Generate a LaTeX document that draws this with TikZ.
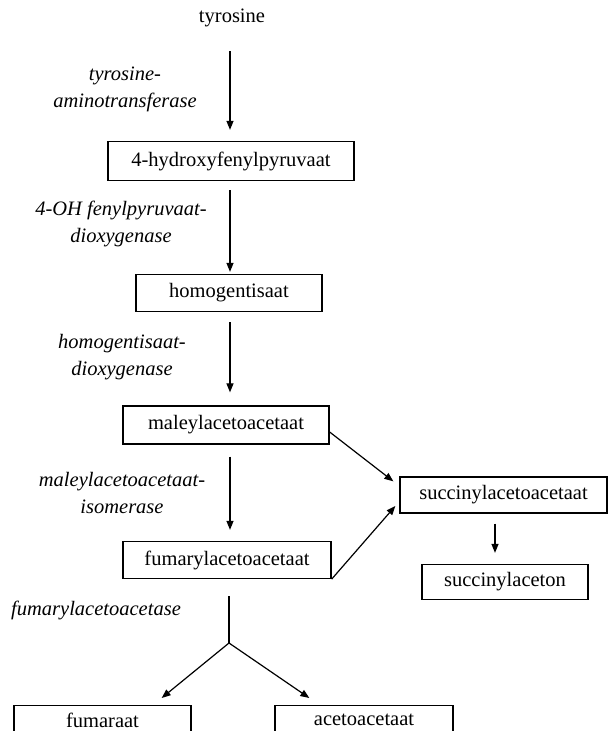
\documentclass[tikz,border=0pt]{standalone}
\usepackage{fontspec}
\setmainfont{Liberation Serif}
\usepackage{tikz}
\usetikzlibrary{arrows.meta,positioning,calc}
\tikzset{
  box/.style={draw,line width=1.3pt,inner sep=0pt,minimum height=37pt,%
    font=\fontsize{20.5}{24}\selectfont},
  enzyme/.style={align=center,inner sep=0pt,%
    font=\fontsize{20.5}{27}\selectfont\itshape},
  flow/.style={-{Triangle[length=9pt,width=7pt]},line width=1.2pt},
}
\begin{document}
\begin{tikzpicture}[x=1pt,y=-1pt]
\useasboundingbox (0,0) rectangle (608,731);
\clip (0,0) rectangle (608,731);
% substrates and products
\node[inner sep=0pt,font=\fontsize{20.5}{24}\selectfont] (tyr) at (232,18) {tyrosine};
\node[box,minimum width=246pt,minimum height=39pt] (hpp) at (231,161) {4-hydroxyfenylpyruvaat};
\node[box,minimum width=186pt] (hga) at (229,293) {homogentisaat};
\node[box,minimum width=206pt,minimum height=38pt] (maa) at (226,425) {maleylacetoacetaat};
\node[box,minimum width=208pt] (faa) at (227,560) {fumarylacetoacetaat};
\node[box,minimum width=207pt,minimum height=36pt] (saa) at (503.5,495) {succinylacetoacetaat};
\node[box,minimum width=166pt,minimum height=35pt] (sa) at (505,582) {succinylaceton};
\node[box,minimum width=177pt,minimum height=29pt,anchor=north] (fum) at (102.5,705) {fumaraat};
\node[box,minimum width=178pt,minimum height=29pt,anchor=north] (aca) at (364,705) {acetoacetaat};
% enzymes
\node[enzyme] (tat) at (125,89) {tyrosine-\\aminotransferase};
\node[enzyme] (hppd) at (121,224) {4-OH fenylpyruvaat-\\dioxygenase};
\node[enzyme] (hgd) at (122,357) {homogentisaat-\\dioxygenase};
\node[enzyme] (mai) at (122,493) {maleylacetoacetaat-\\isomerase};
\node[enzyme,anchor=west] (fah) at (11,610) {fumarylacetoacetase};
\coordinate (split) at (229,643);
% reactions
\draw[flow,shorten <=24pt,shorten >=11pt] (tyr.south -| 230,0) -- (hpp.north -| 230,0);
\draw[flow,shorten <=9pt,shorten >=2pt] (hpp.south -| 230,0) -- (hga.north -| 230,0);
\draw[flow,shorten <=10pt,shorten >=13pt] (hga.south -| 230,0) -- (maa.north -| 230,0);
\draw[flow,shorten <=12pt,shorten >=11pt] (maa.south -| 230,0) -- (faa.north -| 230,0);
\draw[flow] ([yshift=-7pt]maa.east) -- ([xshift=-6pt,yshift=-5pt]saa.north west);
\draw[flow] (faa.south east) -- ([xshift=-4pt,yshift=-11pt]saa.west);
\draw[flow,shorten <=10pt,shorten >=11pt] (saa.south -| 495,0) -- (sa.north -| 495,0);
\draw[line width=1.2pt,shorten <=17pt] (faa.south -| split) -- (split);
\draw[flow] (split) -- ([xshift=-30pt,yshift=7pt]fum.north east);
\draw[flow] (split) -- ([xshift=35pt,yshift=7pt]aca.north west);
\end{tikzpicture}
\end{document}
